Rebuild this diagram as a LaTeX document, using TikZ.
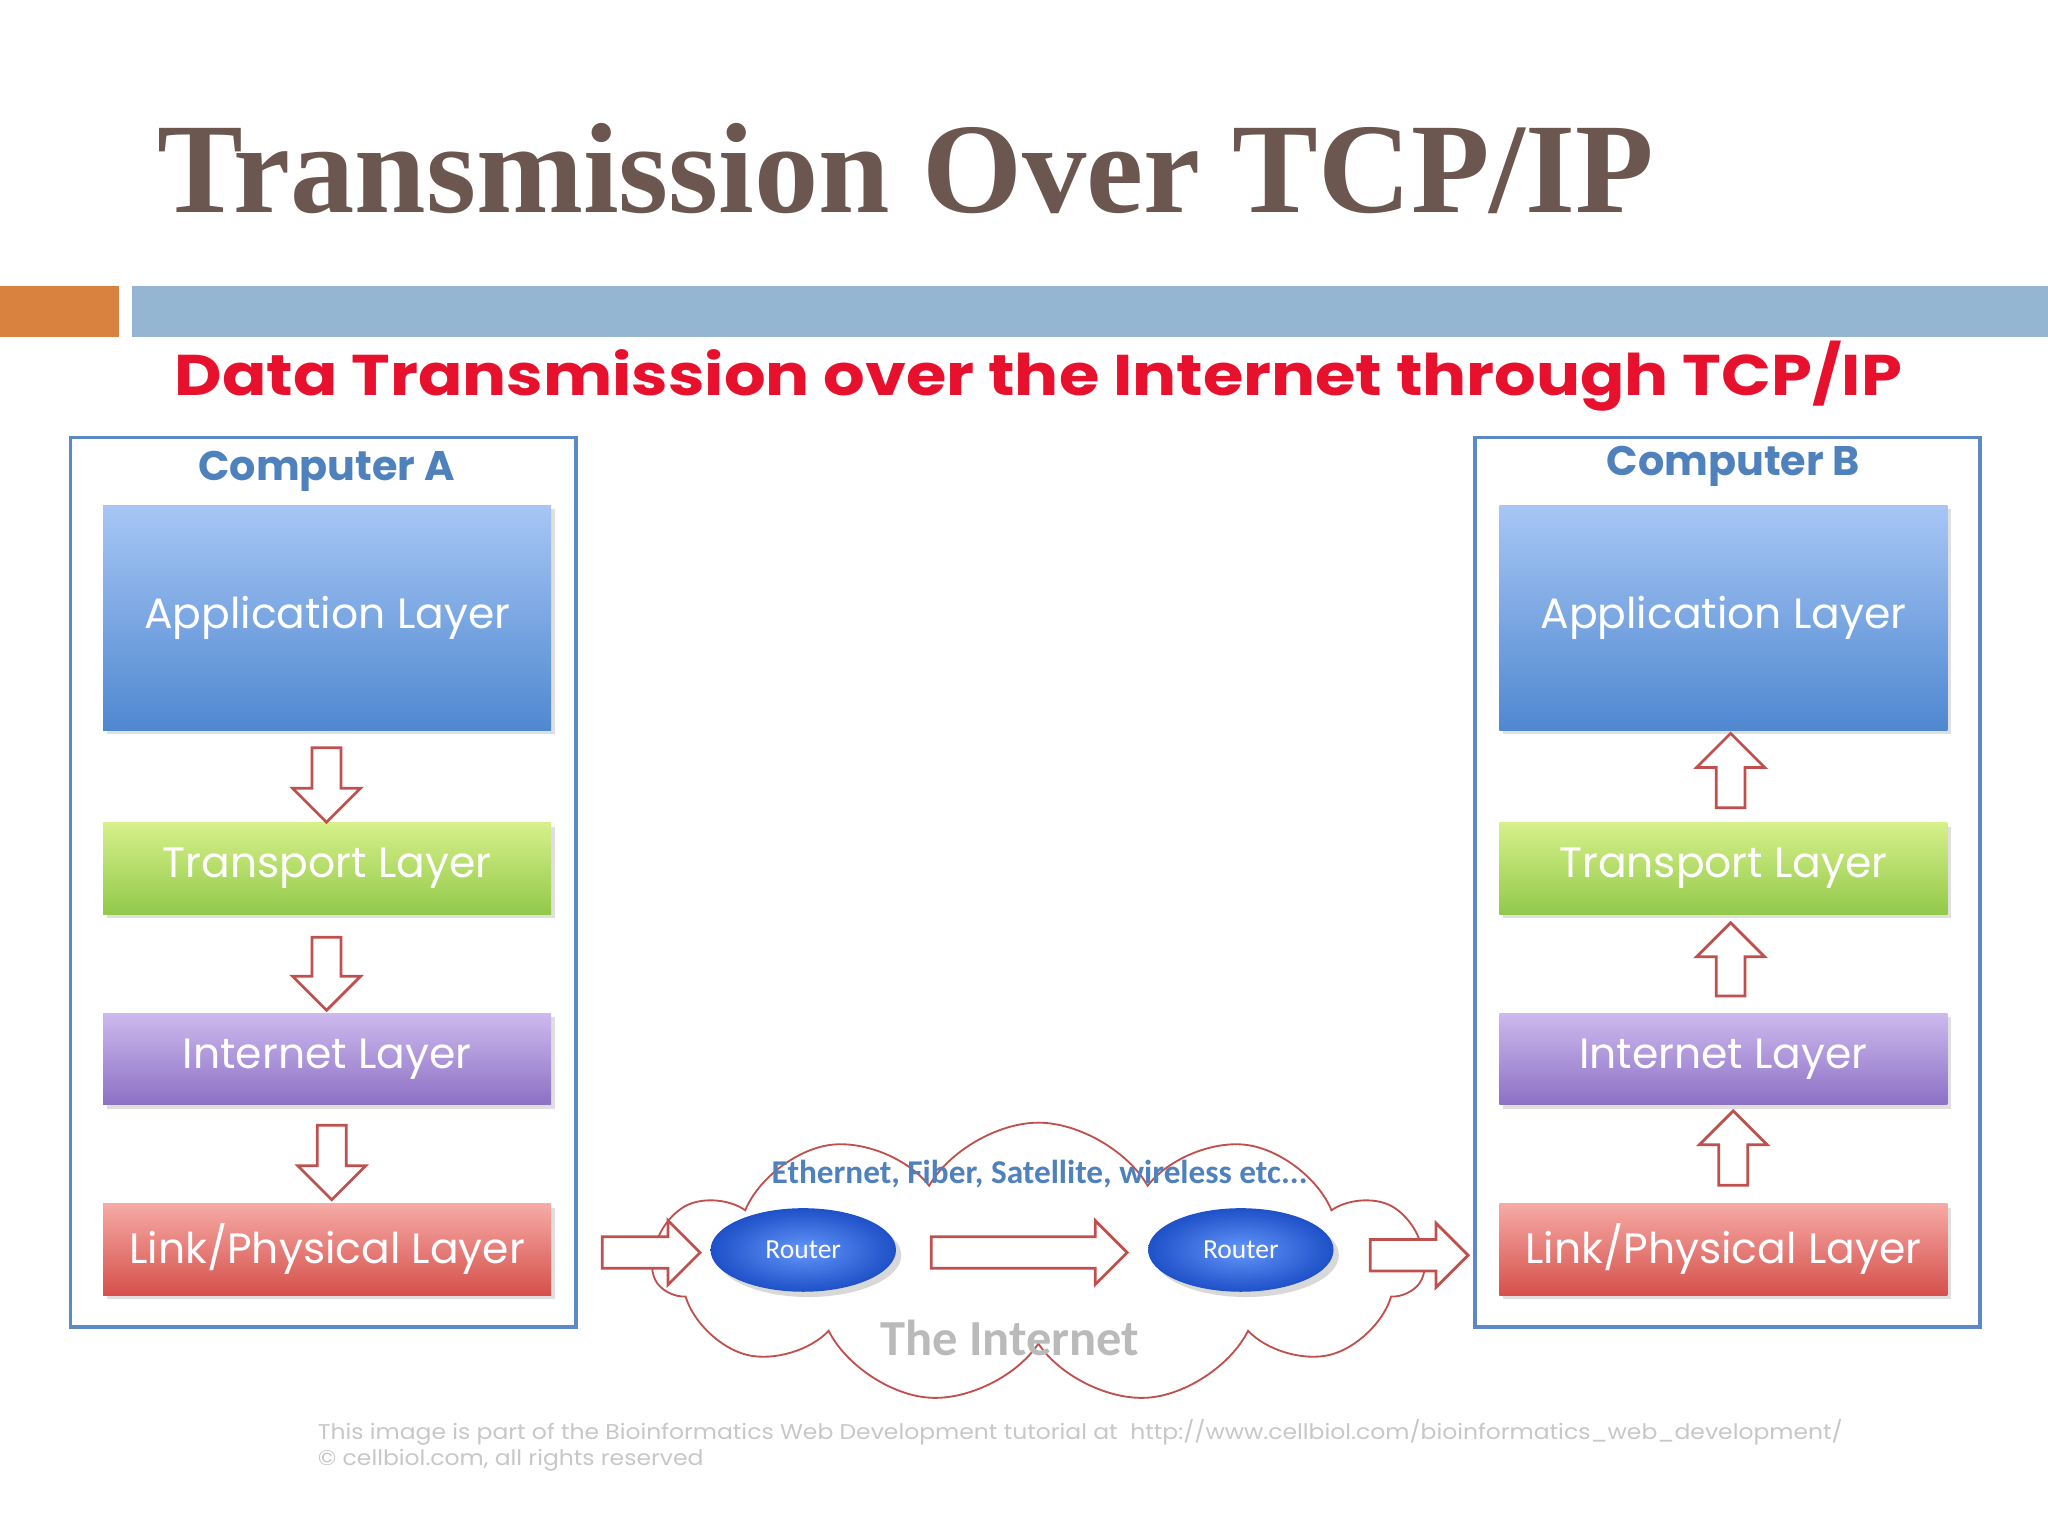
\documentclass[tikz,border=0pt]{standalone}
\usepackage{fontspec}
\setmainfont{Liberation Serif}
\newfontfamily\pop{Poppins}
\newfontfamily\carl{Carlito}
\usetikzlibrary{shapes.symbols,shapes.arrows,shapes.geometric,shadows}
\definecolor{titlec}{HTML}{6B574F}
\definecolor{orangebar}{HTML}{D9823F}
\definecolor{bluebar}{HTML}{94B6D2}
\definecolor{redsub}{HTML}{E8112D}
\definecolor{boxblue}{HTML}{5B8AC6}
\definecolor{lblblue}{HTML}{4F81BD}
\definecolor{arrred}{HTML}{C0504D}
\tikzset{
  layer/.style={minimum width=6.86cm,text=white,font=\pop\fontsize{18.5}{22}\selectfont,
    inner sep=0pt,drop shadow={opacity=0.25,shadow xshift=0.06cm,shadow yshift=-0.06cm}},
  applayer/.style={layer,minimum height=3.44cm,
    top color={rgb,255:red,167;green,198;blue,245},bottom color={rgb,255:red,79;green,136;blue,208}},
  tlayer/.style={layer,minimum height=1.4cm,top color={rgb,255:red,214;green,240;blue,138},bottom color={rgb,255:red,146;green,201;blue,74}},
  ilayer/.style={layer,minimum height=1.4cm,top color={rgb,255:red,205;green,185;blue,238},bottom color={rgb,255:red,140;green,112;blue,196}},
  llayer/.style={layer,minimum height=1.4cm,top color={rgb,255:red,246;green,170;blue,165},bottom color={rgb,255:red,214;green,80;blue,76}},
  compbox/.style={draw=boxblue,line width=1.6pt,minimum width=7.74cm,minimum height=13.62cm,inner sep=0pt},
  complbl/.style={text=lblblue,font=\pop\bfseries\fontsize{18}{21}\selectfont},
  harrow/.style={single arrow,draw=arrred,fill=white,line width=1.2pt,inner sep=0.2cm,single arrow head extend=0.3cm},
  router/.style={ellipse,minimum width=2.84cm,minimum height=1.28cm,inner color={rgb,255:red,100;green,150;blue,250},outer color={rgb,255:red,30;green,80;blue,200},
    text=white,font=\carl\fontsize{12}{14}\selectfont,drop shadow={opacity=0.3}},
}
\begin{document}
\begin{tikzpicture}[x=0.02cm,y=-0.02cm]
\useasboundingbox (0,0) rectangle (1568,1176);
\node[anchor=base west,text=titlec,font=\bfseries\fontsize{56}{60}\selectfont,inner sep=0pt] (title) at (120,163) {Transmission Over TCP/IP};
\fill[orangebar] (0,219) rectangle (91,258);
\fill[bluebar] (101,219) rectangle (1568,258);
\node[text=redsub,font=\pop\bfseries\fontsize{25}{28}\selectfont] (sub) at (795,288) {\scalebox{1.14}[1]{Data Transmission over the Internet through TCP/IP}};
% Computer A
\node[compbox] (ca) at (247.5,675.5) {};
\node[complbl] (cal) at (250,361) {Computer A};
\node[applayer] (a1) at (250.5,473) {Application Layer};
\node[tlayer] (a2) at (250.5,665) {Transport Layer};
\node[ilayer] (a3) at (250.5,811) {Internet Layer};
\node[llayer] (a4) at (250.5,956.5) {Link/Physical Layer};
\node[harrow,minimum height=1.14cm,rotate=-90] (da1) at (250,595.5) {};
\node[harrow,minimum height=1.12cm,rotate=-90] (da2) at (250,740) {};
\node[harrow,minimum height=1.14cm,rotate=-90] (da3) at (254,884.5) {};
% Computer B
\node[compbox] (cb) at (1322.5,675.5) {};
\node[complbl] (cbl) at (1327,357) {Computer B};
\node[applayer] (b1) at (1319.5,473) {Application Layer};
\node[tlayer] (b2) at (1319.5,665) {Transport Layer};
\node[ilayer] (b3) at (1319.5,811) {Internet Layer};
\node[llayer] (b4) at (1319.5,956.5) {Link/Physical Layer};
\node[harrow,minimum height=1.14cm,rotate=90] (ua1) at (1325,595.5) {};
\node[harrow,minimum height=1.12cm,rotate=90] (ua2) at (1325,740) {};
\node[harrow,minimum height=1.14cm,rotate=90] (ua3) at (1327,884.5) {};
% Cloud
\node[cloud,cloud puffs=11,cloud puff arc=120,aspect=2.8,draw=arrred,fill=white,line width=0.8pt,minimum width=11.8cm,minimum height=4.3cm] (cloud) at (795,967) {};
\node[text=lblblue,font=\carl\bfseries\fontsize{14.5}{16}\selectfont] (eth) at (796,899) {Ethernet, Fiber, Satellite, wireless etc...};
\node[router] (r1) at (615,957) {Router};
\node[router] (r2) at (950,957) {Router};
\node[text=black!27,font=\carl\bfseries\fontsize{22}{24}\selectfont] (inet) at (773,1024) {The Internet};
\node[harrow,inner sep=0.22cm,single arrow head extend=0.25cm,minimum height=1.5cm] (h1) at (492.5,959) {};
\node[harrow,inner sep=0.22cm,single arrow head extend=0.25cm,minimum height=3.0cm] (h2) at (782,959) {};
\node[harrow,inner sep=0.22cm,single arrow head extend=0.25cm,minimum height=1.5cm] (h3) at (1080.5,961) {};
% Footer
\node[anchor=base west,text=black!22,font=\pop\fontsize{9.3}{12}\selectfont,inner sep=0pt] (foot) at (243,1102) {\scalebox{1.1}[1]{This image is part of the Bioinformatics Web Development tutorial at\ \ http://www.cellbiol.com/bioinformatics\_web\_development/}};
\node[anchor=base west,text=black!22,font=\pop\fontsize{9.3}{12}\selectfont,inner sep=0pt] (foot2) at (243,1122) {\scalebox{1.1}[1]{© cellbiol.com, all rights reserved}};
\end{tikzpicture}
\end{document}
